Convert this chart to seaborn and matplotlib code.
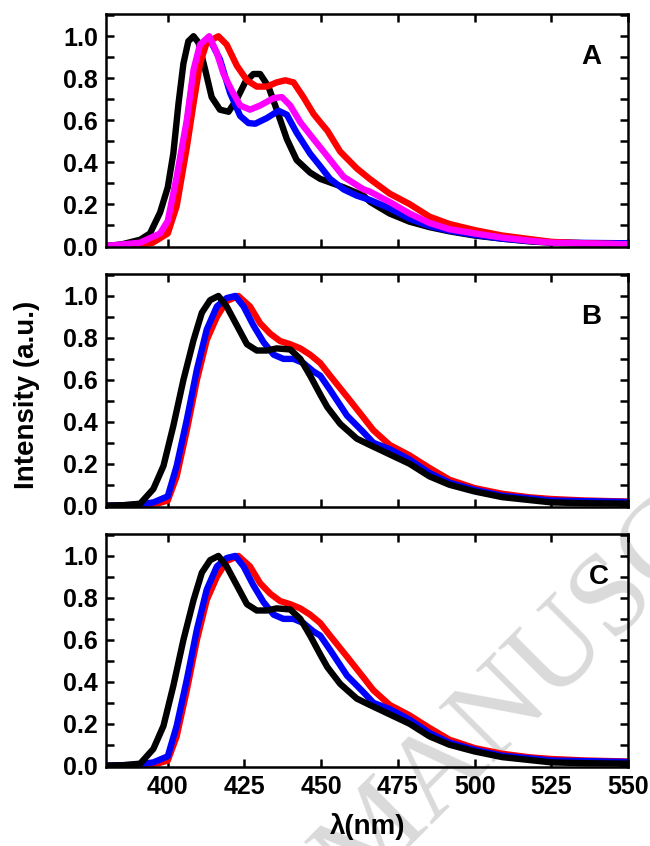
import numpy as np
import pandas as pd
import matplotlib
matplotlib.use("Agg")
import matplotlib.pyplot as plt
import seaborn as sns
from matplotlib.ticker import MultipleLocator

# ---- data (wavelength nm, normalised intensity) ----
A_black_wl = [380, 385, 391, 394.2, 397.5, 400, 401.8, 403.5, 405.1, 406.7, 408.4, 410, 412.2, 414.3,
              417, 419.8, 422.5, 425.2, 427.9, 430.1, 432.8, 435.5, 438.8, 442, 446.4, 449.7,
              457.3, 463.8, 466, 472.3, 478.8, 485.3, 491.8, 500, 509, 518, 525, 536, 550]
A_black = [0.0, 0.008, 0.03, 0.06, 0.16, 0.28, 0.44, 0.68, 0.87, 0.976, 1.0, 0.97, 0.84, 0.71,
           0.65, 0.64, 0.70, 0.78, 0.82, 0.82, 0.76, 0.65, 0.51, 0.41, 0.35, 0.32,
           0.28, 0.24, 0.21, 0.155, 0.116, 0.09, 0.07, 0.05, 0.035, 0.022, 0.016, 0.012, 0.01]

A_red_wl = [380, 390, 395, 400, 402.9, 406.2, 408.4, 410.5, 412.7, 416.5, 419.2, 422.5, 425.8, 429,
            432.3, 435.5, 438.3, 441, 444.2, 447.5, 449.7, 452, 456.2, 461.6, 465.8, 472.3,
            478.8, 485.3, 491.8, 500, 509, 518, 525, 536, 550]
A_red = [0.0, 0.004, 0.015, 0.06, 0.19, 0.47, 0.68, 0.87, 0.97, 1.0, 0.96, 0.86, 0.79, 0.76,
         0.76, 0.78, 0.79, 0.78, 0.71, 0.63, 0.59, 0.55, 0.45, 0.37, 0.32, 0.25,
         0.20, 0.14, 0.105, 0.076, 0.05, 0.033, 0.02, 0.013, 0.008]

A_blue_wl = [380, 391, 397.5, 400, 402.9, 406.2, 408.4, 410.5, 413.5, 417, 420.3, 423.6, 426.3,
             428.5, 432.3, 436.1, 438.8, 442, 446.4, 449.7, 452.9, 457.3, 461.6, 465.8,
             472.3, 478.8, 485.3, 491.8, 500, 509, 518, 525, 536, 550]
A_blue = [0.0, 0.012, 0.05, 0.10, 0.31, 0.58, 0.82, 0.95, 0.99, 0.89, 0.73, 0.62, 0.586,
          0.583, 0.61, 0.645, 0.626, 0.54, 0.44, 0.38, 0.32, 0.27, 0.24, 0.22,
          0.18, 0.13, 0.095, 0.073, 0.053, 0.035, 0.024, 0.018, 0.015, 0.013]

A_magenta_wl = [380, 391, 397.5, 400, 402.9, 406.2, 408.4, 410.5, 413.5, 416, 418.2, 420.9, 423.6,
                426.8, 430.1, 434.5, 437.2, 439.9, 443.2, 447.5, 450.8, 457.3, 463.8, 465.8,
                472.3, 478.8, 485.3, 491.8, 500, 509, 518, 525, 550]
A_magenta = [0.0, 0.016, 0.06, 0.12, 0.33, 0.60, 0.84, 0.96, 1.0, 0.92, 0.82, 0.74, 0.67,
             0.65, 0.67, 0.705, 0.71, 0.67, 0.59, 0.51, 0.45, 0.33, 0.27, 0.26,
             0.21, 0.155, 0.11, 0.08, 0.06, 0.04, 0.025, 0.016, 0.008]

B_black_wl = [380, 386, 391, 395.3, 398.6, 401.8, 405.1, 408.4, 411.1, 413.8, 416.5, 419.2, 422.5,
              425.8, 429, 432.3, 435.5, 439.9, 443.2, 446.4, 449.7, 452, 456.2, 461.6, 465.8,
              472.3, 478.8, 485.3, 491.8, 500, 509, 518, 525, 536, 550]
B_black = [0.0, 0.003, 0.01, 0.08, 0.19, 0.38, 0.60, 0.79, 0.92, 0.98, 1.0, 0.95, 0.86,
           0.77, 0.74, 0.74, 0.75, 0.745, 0.70, 0.62, 0.53, 0.47, 0.39, 0.32, 0.29,
           0.245, 0.20, 0.14, 0.10, 0.068, 0.041, 0.027, 0.016, 0.012, 0.01]

B_blue_wl = [380, 390, 395.3, 400, 402.9, 406.2, 409.5, 412.7, 416, 419.2, 422, 424.7, 427.9, 431.2,
             434.5, 437.7, 441, 444.2, 447.5, 449.7, 453, 458.4, 463.8, 467, 472.3, 478.8, 485.3,
             491.8, 500, 509, 525, 550]
B_blue = [0.0, 0.005, 0.016, 0.045, 0.19, 0.41, 0.65, 0.84, 0.95, 0.99, 1.0, 0.95, 0.86, 0.78,
          0.72, 0.70, 0.70, 0.68, 0.64, 0.62, 0.55, 0.43, 0.35, 0.30, 0.27, 0.22, 0.156,
          0.11, 0.076, 0.048, 0.025, 0.018]

B_red_wl = [380, 392, 397, 400, 402.9, 406.2, 409.5, 412.7, 416, 419.2, 423, 426.8, 430.1, 433.4,
            436.6, 439.9, 443.2, 446.4, 449.7, 452.9, 458.4, 463.8, 467, 472.3, 478.8, 485.3,
            491.8, 500, 509, 518, 525, 536, 550]
B_red = [0.0, 0.004, 0.012, 0.025, 0.14, 0.36, 0.60, 0.79, 0.90, 0.976, 1.0, 0.95, 0.87, 0.82,
         0.785, 0.77, 0.75, 0.72, 0.68, 0.62, 0.52, 0.42, 0.36, 0.29, 0.24, 0.18,
         0.124, 0.084, 0.057, 0.04, 0.032, 0.025, 0.02]

# panel C reads identical to panel B
C_black_wl, C_black = B_black_wl, B_black
C_blue_wl, C_blue = B_blue_wl, B_blue
C_red_wl, C_red = B_red_wl, B_red

panels = {
    "A": [("black", A_black_wl, A_black), ("blue", A_blue_wl, A_blue),
          ("red", A_red_wl, A_red), ("magenta", A_magenta_wl, A_magenta)],
    "B": [("red", B_red_wl, B_red), ("blue", B_blue_wl, B_blue), ("black", B_black_wl, B_black)],
    "C": [("red", C_red_wl, C_red), ("blue", C_blue_wl, C_blue), ("black", C_black_wl, C_black)],
}
colors = {"black": "#000000", "blue": "#0000ff", "red": "#ff0000", "magenta": "#ff00ff"}

sns.set_style("ticks")
plt.rcParams["font.family"] = ["Liberation Sans", "DejaVu Sans"]
plt.rcParams["font.weight"] = "bold"
for k in ["text.color", "axes.labelcolor", "xtick.color", "ytick.color", "axes.edgecolor"]:
    plt.rcParams[k] = "black"

fig = plt.figure(figsize=(6.5, 8.46), dpi=100)

# faint watermark
fig.text(0.585, 0.012, "ACCEPTED MANUSCRIPT", fontsize=85, color="#dadada",
         family="Liberation Serif", fontweight="normal", rotation=45,
         ha="center", va="center", rotation_mode="anchor", zorder=-1)

left, width, height = 0.1637, 0.8025, 0.2755
bottoms = [0.7077, 0.4007, 0.0934]
label_pos = {"A": (0.93, 0.815), "B": (0.93, 0.815), "C": (0.945, 0.815)}

for (name, curves), bottom in zip(panels.items(), bottoms):
    ax = fig.add_axes([left, bottom, width, height])
    ax.patch.set_alpha(0)
    rows = []
    for key, wl, val in curves:
        rows.append(pd.DataFrame({"wl": wl, "I": val, "s": key}))
    df = pd.concat(rows, ignore_index=True)
    order = [c[0] for c in curves]
    sns.lineplot(data=df, x="wl", y="I", hue="s", hue_order=order, palette=colors,
                 linewidth=4.6, legend=False, ax=ax, sort=False,
                 solid_joinstyle="round", solid_capstyle="round")
    ax.set_xlim(380, 550)
    ax.set_ylim(-0.006, 1.105)
    ax.xaxis.set_major_locator(MultipleLocator(25))
    ax.yaxis.set_major_locator(MultipleLocator(0.2))
    ax.yaxis.set_minor_locator(MultipleLocator(0.1))
    ax.tick_params(which="both", direction="in", top=True, right=True, width=1.8, length=6)
    ax.tick_params(axis="both", labelsize=18, pad=6)
    ax.set_yticks([0, 0.2, 0.4, 0.6, 0.8, 1.0])
    ax.set_yticklabels(["0.0", "0.2", "0.4", "0.6", "0.8", "1.0"])
    for sp in ax.spines.values():
        sp.set_linewidth(1.8)
    ax.set_xlabel("")
    ax.set_ylabel("")
    if name != "C":
        ax.set_xticklabels([])
    else:
        ax.set_xticks([400, 425, 450, 475, 500, 525, 550])
        ax.set_xlabel("λ(nm)", fontsize=20, fontweight="bold", labelpad=10)
    ax.text(*label_pos[name], name, transform=ax.transAxes, fontsize=20,
            fontweight="bold", ha="center", va="center")

fig.text(0.042, 0.533, "Intensity (a.u.)", rotation=90, fontsize=20,
         family=["Liberation Sans Narrow", "Liberation Sans"], fontweight="bold",
         ha="center", va="center")

fig.savefig("out.png", dpi=100)
